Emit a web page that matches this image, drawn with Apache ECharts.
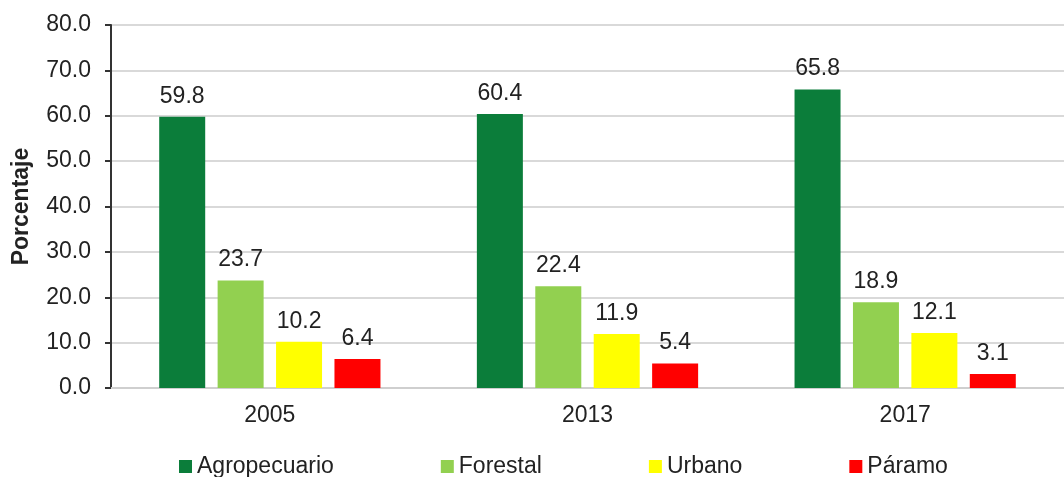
<!DOCTYPE html>
<html>
<head>
<meta charset="utf-8">
<script src="https://cdn.jsdelivr.net/npm/echarts@6/dist/echarts.min.js"></script>
<style>
  html, body { margin: 0; padding: 0; background: #fff; }
  #main { width: 1064px; height: 477px; }
</style>
</head>
<body>
<div id="main"></div>
<script>
// datos
const anios = ['2005', '2013', '2017'];
const agropecuario = [59.8, 60.4, 65.8];
const forestal = [23.7, 22.4, 18.9];
const urbano = [10.2, 11.9, 12.1];
const paramo = [6.4, 5.4, 3.1];

const nombres = ['Agropecuario', 'Forestal', 'Urbano', 'Páramo'];
const colores = ['#0b7d3a', '#92d050', '#ffff00', '#ff0000'];

const fuente = 'Liberation Sans, Arial, sans-serif';

function serie(nombre, datos, color) {
    return {
        name: nombre,
        type: 'bar',
        data: datos,
        barWidth: 46,
        barGap: '27%',
        itemStyle: { color: color },
        label: {
            show: true,
            position: 'top',
            distance: 9,
            color: '#222',
            fontFamily: fuente,
            fontSize: 23,
            formatter: p => p.value.toFixed(1)
        }
    };
}

const chart = echarts.init(document.getElementById('main'));

chart.setOption({
    animation: false,
    backgroundColor: '#fff',
    textStyle: { fontFamily: fuente },
    grid: { left: 111, top: 25, width: 962, bottom: 89, containLabel: false },
    legend: {
        data: nombres,
        left: 174,
        top: 450,
        itemWidth: 13,
        itemHeight: 13,
        itemGap: 107,
        icon: 'rect',
        textStyle: { fontSize: 23, color: '#222', fontFamily: fuente }
    },
    xAxis: {
        type: 'category',
        data: anios,
        axisLine: { show: true, lineStyle: { color: '#cfcfcf', width: 2 } },
        axisTick: { show: false },
        axisLabel: { margin: 16, fontSize: 23, color: '#222', fontFamily: fuente }
    },
    yAxis: {
        type: 'value',
        min: 0,
        max: 80,
        interval: 10,
        name: 'Porcentaje',
        nameLocation: 'middle',
        nameGap: 78,
        nameTextStyle: { fontSize: 23, fontWeight: 'bold', color: '#222', fontFamily: fuente },
        axisLine: { show: true, lineStyle: { color: '#333', width: 2 } },
        axisTick: { show: true, inside: false, length: 6, lineStyle: { color: '#333', width: 2 } },
        axisLabel: {
            margin: 20,
            fontSize: 23,
            color: '#222',
            fontFamily: fuente,
            formatter: v => v.toFixed(1)
        },
        splitLine: { show: true, lineStyle: { color: '#d9d9d9', width: 2 } }
    },
    series: [
        serie(nombres[0], agropecuario, colores[0]),
        serie(nombres[1], forestal, colores[1]),
        serie(nombres[2], urbano, colores[2]),
        serie(nombres[3], paramo, colores[3])
    ]
});
</script>
</body>
</html>
